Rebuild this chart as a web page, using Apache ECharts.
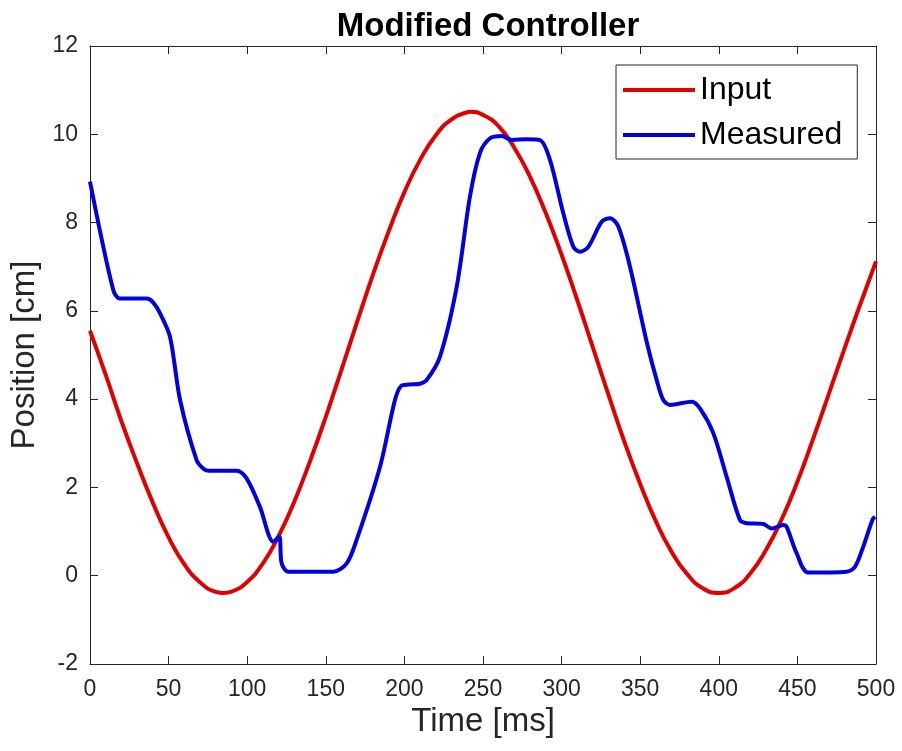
<!DOCTYPE html>
<html>
<head>
<meta charset="utf-8">
<script src="https://cdn.jsdelivr.net/npm/echarts@6/dist/echarts.min.js"></script>
<style>
html,body{margin:0;padding:0;background:#fff;}
#chart{width:902px;height:751px;}
</style>
</head>
<body>
<div id="chart"></div>
<script>
var titleText = 'Modified Controller';
var xName = 'Time [ms]';
var yName = 'Position [cm]';
var seriesNames = ['Input', 'Measured'];

var inputT = [0,10,20,30,40,50,60,70,80,85,90,100,110,120,130,140,150,160,170,180,190,200,210,220,230,240,242,250,260,270,280,290,300,310,320,330,340,350,360,370,380,390,400,410,420,430,440,450,460,470,480,490,500];
var inputV = [5.55,4.55,3.5,2.54,1.65,0.87,0.26,-0.15,-0.365,-0.39,-0.36,-0.14,0.28,0.9,1.68,2.6,3.6,4.67,5.76,6.82,7.8,8.69,9.42,9.98,10.34,10.5,10.51,10.44,10.18,9.69,9.03,8.21,7.27,6.24,5.16,4.08,3.03,2.08,1.23,0.54,0.03,-0.29,-0.39,-0.28,0.05,0.58,1.28,2.13,3.1,4.12,5.15,6.15,7.12];

var measuredT = [0,14.8,19,36,40,44.5,50.9,57.3,67.8,72,75.3,93.3,99.7,108.1,116.6,120.4,121.9,126.2,154.8,163.3,169.6,184.5,194,198,203,210,214.1,222.6,233.3,241.7,248.1,254.5,261.9,268.3,277.8,286.3,292.6,301.1,307.5,311.7,317,325.5,330.8,336.1,343.5,354.1,360.5,364.7,369,382.7,388,396.5,405,413.5,417.8,428.3,433.6,441,443.1,449.5,456.9,481.3,486.6,491.9,497.9,499.5];
var measuredV = [8.93,6.47,6.28,6.28,6.2,5.95,5.41,3.98,2.62,2.43,2.38,2.38,2.2,1.56,0.77,0.88,0.28,0.09,0.09,0.28,0.81,2.47,3.98,4.3,4.33,4.35,4.43,4.96,6.55,8.59,9.58,9.91,9.96,9.87,9.89,9.87,9.42,8.21,7.45,7.34,7.45,8.02,8.1,7.91,7.0,5.3,4.43,3.98,3.87,3.94,3.79,3.23,2.24,1.26,1.19,1.17,1.07,1.15,1.11,0.51,0.07,0.09,0.2,0.66,1.28,1.33];

var xMin = 0, xMax = 500, xStep = 50;
var yMin = -2, yMax = 12, yStep = 2;

function pairs(t, v) { return t.map(function (x, i) { return [x, v[i]]; }); }

var FONT = '"Liberation Sans", Arial, Helvetica, sans-serif';
var AX = '#262626';
var RED = '#e00000';
var BLUE = '#0000e0';

function axisCommon(showLabels) {
  return {
    axisLine: { show: true, onZero: false, lineStyle: { color: AX, width: 1 } },
    axisTick: { show: true, inside: true, length: 8, lineStyle: { color: AX, width: 1 } },
    axisLabel: { show: showLabels, color: AX, fontFamily: FONT, fontSize: 23 },
    splitLine: { show: false }
  };
}

var chart = echarts.init(document.getElementById('chart'), null, { renderer: 'canvas' });
var xa0 = Object.assign({ type: 'value', position: 'bottom', min: xMin, max: xMax, interval: xStep,
  name: xName, nameLocation: 'middle', nameGap: 24,
  nameTextStyle: { color: AX, fontFamily: FONT, fontSize: 33 } }, axisCommon(true));
xa0.axisLabel.margin = 14;
var xa1 = Object.assign({ type: 'value', position: 'top', min: xMin, max: xMax, interval: xStep }, axisCommon(false));
var ya0 = Object.assign({ type: 'value', position: 'left', min: yMin, max: yMax, interval: yStep,
  name: yName, nameLocation: 'middle', nameGap: 48,
  nameTextStyle: { color: AX, fontFamily: FONT, fontSize: 33 } }, axisCommon(true));
ya0.axisLabel.margin = 12;
var ya1 = Object.assign({ type: 'value', position: 'right', min: yMin, max: yMax, interval: yStep }, axisCommon(false));

chart.setOption({
  animation: false,
  backgroundColor: '#fff',
  title: {
    text: titleText, left: 483, top: 5, textAlign: 'center',
    textStyle: { fontFamily: FONT, fontWeight: 'bold', fontSize: 33, color: '#000' }
  },
  grid: { left: 90, top: 46, right: 26, bottom: 87, containLabel: false },
  legend: {
    orient: 'vertical', left: 616, top: 65,
    backgroundColor: '#fff', borderColor: AX, borderWidth: 1,
    padding: [9, 15, 8, 7], itemGap: 13,
    itemWidth: 72, itemHeight: 4,
    textStyle: { fontFamily: FONT, fontSize: 32, color: '#000', lineHeight: 32 },
    data: [
      { name: seriesNames[0], icon: 'rect' },
      { name: seriesNames[1], icon: 'rect' }
    ]
  },
  xAxis: [xa0, xa1],
  yAxis: [ya0, ya1],
  series: [
    { name: seriesNames[0], type: 'line', data: pairs(inputT, inputV), showSymbol: false, symbol: 'none',
      smooth: 0.5, color: RED, lineStyle: { width: 4, color: RED } },
    { name: seriesNames[1], type: 'line', data: pairs(measuredT, measuredV), showSymbol: false, symbol: 'none',
      smooth: 0.3, color: BLUE, lineStyle: { width: 4, color: BLUE } }
  ]
});
</script>
</body>
</html>
